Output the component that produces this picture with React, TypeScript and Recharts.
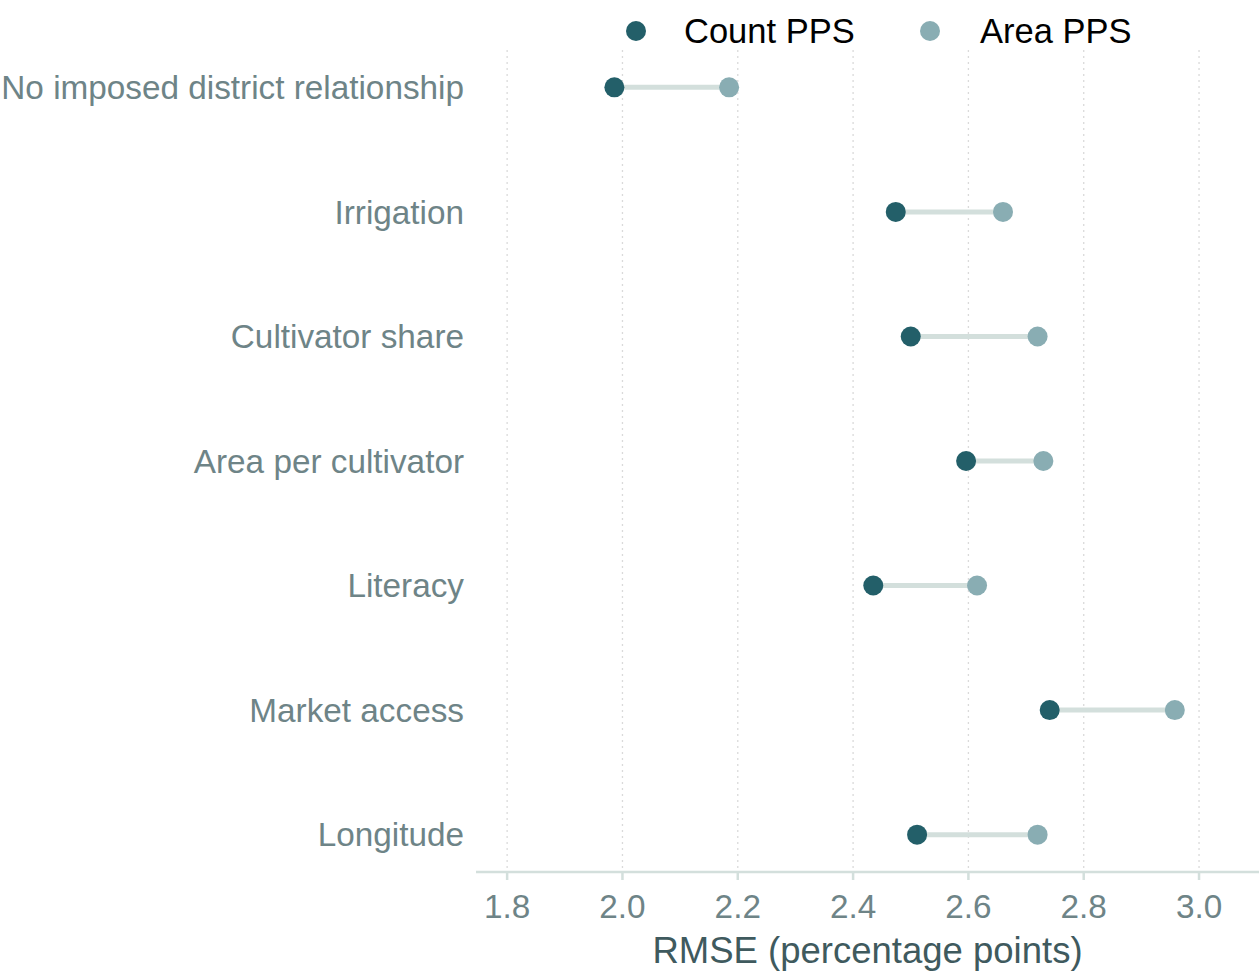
import { ScatterChart, Scatter, XAxis, YAxis, CartesianGrid, ErrorBar, Legend } from 'recharts'

const categories = [
  'No imposed district relationship',
  'Irrigation',
  'Cultivator share',
  'Area per cultivator',
  'Literacy',
  'Market access',
  'Longitude',
]
const countPPS = [1.986, 2.474, 2.5, 2.596, 2.435, 2.741, 2.511]
const areaPPS = [2.185, 2.66, 2.72, 2.73, 2.615, 2.958, 2.72]
const xTicks = [1.8, 2.0, 2.2, 2.4, 2.6, 2.8, 3.0]

const COUNT_COLOR = '#235f69'
const AREA_COLOR = '#89adb3'
const SEGMENT_COLOR = '#d3dfdc'
const TICK_COLOR = '#6e8487'
const FONT = '"Liberation Sans", Arial, sans-serif'

const countData = categories.map((name, i) => ({
  name,
  x: countPPS[i],
  y: i,
  gap: [0, areaPPS[i] - countPPS[i]],
}))
const areaData = categories.map((name, i) => ({ name, x: areaPPS[i], y: i }))

const Dot = (color: string) => (props: any) => (
  <circle cx={props.cx} cy={props.cy} r={10} fill={color} />
)

const TopLegend = () => (
  <svg width={1259} height={50} style={{ display: 'block' }}>
    <circle cx={636} cy={31} r={10} fill={COUNT_COLOR} />
    <text x={684} y={43} fontSize={34.5} fill="#000" fontFamily={FONT}>
      Count PPS
    </text>
    <circle cx={930} cy={31} r={10} fill={AREA_COLOR} />
    <text x={980} y={43} fontSize={34.5} fill="#000" fontFamily={FONT}>
      Area PPS
    </text>
  </svg>
)

export default function App() {
  return (
    <div style={{ position: 'absolute', left: 0, top: 0, fontFamily: FONT }}>
      <ScatterChart width={1259} height={974} margin={{ top: 0, right: 0, bottom: 0, left: 0 }}>
        <Legend verticalAlign="top" align="left" content={<TopLegend />} wrapperStyle={{ height: 50 }} />
        <CartesianGrid
          horizontal={false}
          verticalValues={xTicks}
          stroke="#dadada"
          strokeDasharray="2 4"
          strokeWidth={1.3}
        />
        <XAxis
          type="number"
          dataKey="x"
          domain={[1.746, 3.104]}
          allowDataOverflow
          ticks={xTicks}
          tickFormatter={(v: number) => v.toFixed(1)}
          height={102}
          tickSize={8}
          tickMargin={14}
          axisLine={{ stroke: SEGMENT_COLOR, strokeWidth: 2.5 }}
          tickLine={{ stroke: SEGMENT_COLOR, strokeWidth: 2.5 }}
          tick={{ fontSize: 33.3, fill: TICK_COLOR, fontFamily: FONT }}
          label={{
            value: 'RMSE (percentage points)',
            position: 'insideBottom',
            offset: 11,
            fontSize: 36.5,
            fill: '#3f5a5e',
            fontFamily: FONT,
          }}
        />
        <YAxis
          type="number"
          dataKey="y"
          domain={[-0.3, 6.3]}
          reversed
          ticks={[0, 1, 2, 3, 4, 5, 6]}
          tickFormatter={(v: number) => categories[v] ?? ''}
          width={476}
          tickSize={0}
          tickMargin={12}
          axisLine={false}
          tickLine={false}
          tick={{ fontSize: 33.3, fill: TICK_COLOR, fontFamily: FONT }}
        />
        <Scatter
          name="Count PPS"
          data={countData}
          fill={COUNT_COLOR}
          shape={Dot(COUNT_COLOR)}
          isAnimationActive={false}
        >
          <ErrorBar
            dataKey="gap"
            direction="x"
            width={0}
            stroke={SEGMENT_COLOR}
            strokeWidth={5}
            isAnimationActive={false}
          />
        </Scatter>
        <Scatter
          name="Area PPS"
          data={areaData}
          fill={AREA_COLOR}
          shape={Dot(AREA_COLOR)}
          isAnimationActive={false}
        />
      </ScatterChart>
    </div>
  )
}
